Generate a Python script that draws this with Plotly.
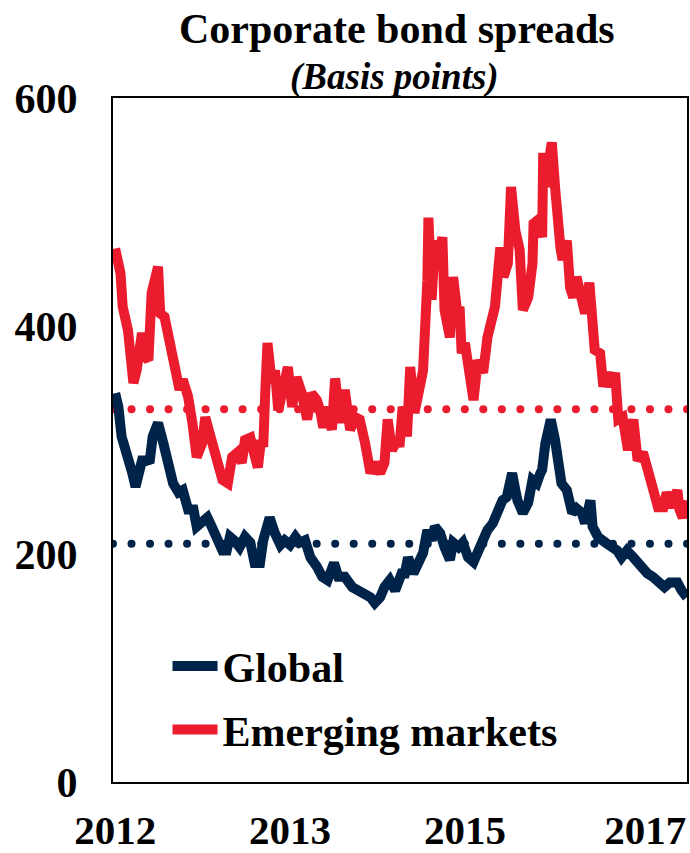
import numpy as np
import plotly.graph_objects as go

# Emerging-market corporate bond spreads (bp), decimal-year dates
em_dates = [2012.02, 2012.07, 2012.09, 2012.14, 2012.19, 2012.22, 2012.27, 2012.30, 2012.33, 2012.36,
            2012.42, 2012.44, 2012.48, 2012.53, 2012.58, 2012.62, 2012.65, 2012.70, 2012.74, 2012.78,
            2012.83, 2012.86, 2012.90, 2012.95, 2012.98, 2013.02, 2013.07, 2013.11, 2013.16, 2013.20,
            2013.23, 2013.28, 2013.31, 2013.35, 2013.38, 2013.40, 2013.42, 2013.44, 2013.48, 2013.51,
            2013.54, 2013.58, 2013.63, 2013.67, 2013.71, 2013.76, 2013.81, 2013.85, 2013.90, 2013.93,
            2013.96, 2013.99, 2014.04, 2014.07, 2014.12, 2014.16, 2014.21, 2014.26, 2014.30, 2014.35,
            2014.40, 2014.44, 2014.49, 2014.53, 2014.56, 2014.60, 2014.65, 2014.67, 2014.70, 2014.72,
            2014.74, 2014.77, 2014.81, 2014.86, 2014.89, 2014.93, 2014.94, 2014.97, 2015.00, 2015.03,
            2015.07, 2015.09, 2015.14, 2015.17, 2015.21, 2015.23, 2015.25, 2015.28, 2015.31, 2015.36,
            2015.40, 2015.45, 2015.49, 2015.53, 2015.56, 2015.61, 2015.64, 2015.68, 2015.71, 2015.75,
            2015.79, 2015.82, 2015.87, 2015.91, 2015.92, 2015.96, 2016.00, 2016.01, 2016.03, 2016.05,
            2016.09, 2016.12, 2016.14, 2016.17, 2016.19, 2016.23, 2016.26, 2016.29, 2016.32, 2016.37,
            2016.40, 2016.44, 2016.46, 2016.49, 2016.54, 2016.57, 2016.61, 2016.65, 2016.68, 2016.71,
            2016.75, 2016.80, 2016.85, 2016.89, 2016.94, 2016.99, 2017.03, 2017.08, 2017.13, 2017.16,
            2017.21, 2017.26, 2017.28, 2017.31, 2017.35]
em_spread = [468, 446, 417, 396, 350, 361, 394, 373, 370, 429,
             452, 411, 408, 385, 367, 344, 353, 338, 315, 285,
             297, 320, 306, 291, 280, 265, 262, 285, 289, 280,
             300, 302, 290, 276, 300, 294, 344, 385, 350, 361,
             326, 347, 364, 329, 355, 341, 318, 341, 335, 326,
             311, 329, 309, 354, 315, 344, 309, 320, 318, 297,
             271, 280, 271, 280, 318, 291, 300, 294, 329, 324,
             303, 364, 324, 347, 361, 440, 495, 423, 475, 458,
             478, 414, 390, 443, 411, 417, 376, 385, 359, 335,
             370, 359, 390, 402, 417, 469, 443, 455, 522, 484,
             467, 414, 425, 455, 490, 493, 478, 552, 522, 537,
             561, 522, 484, 469, 458, 475, 434, 425, 443, 417,
             411, 438, 405, 379, 376, 347, 359, 347, 359, 318,
             320, 291, 318, 282, 289, 271, 262, 241, 241, 254,
             241, 256, 239, 232, 247]

# Global corporate bond spreads (bp)
gl_dates = [2012.02, 2012.05, 2012.08, 2012.13, 2012.18, 2012.21, 2012.23, 2012.27, 2012.32, 2012.34,
            2012.37, 2012.42, 2012.47, 2012.51, 2012.56, 2012.61, 2012.65, 2012.70, 2012.75, 2012.78,
            2012.83, 2012.88, 2012.92, 2012.97, 2013.02, 2013.06, 2013.09, 2013.14, 2013.18, 2013.23,
            2013.28, 2013.32, 2013.37, 2013.40, 2013.44, 2013.46, 2013.51, 2013.56, 2013.60, 2013.65,
            2013.70, 2013.74, 2013.79, 2013.84, 2013.90, 2013.95, 2014.00, 2014.06, 2014.10, 2014.16,
            2014.23, 2014.28, 2014.35, 2014.40, 2014.44, 2014.49, 2014.53, 2014.58, 2014.63, 2014.65,
            2014.69, 2014.72, 2014.75, 2014.80, 2014.84, 2014.89, 2014.93, 2014.97, 2015.00, 2015.05,
            2015.09, 2015.14, 2015.17, 2015.22, 2015.26, 2015.31, 2015.36, 2015.40, 2015.45, 2015.49,
            2015.54, 2015.59, 2015.63, 2015.67, 2015.72, 2015.75, 2015.77, 2015.82, 2015.87, 2015.91,
            2015.95, 2015.98, 2016.00, 2016.03, 2016.05, 2016.08, 2016.12, 2016.15, 2016.18, 2016.23,
            2016.28, 2016.32, 2016.37, 2016.40, 2016.45, 2016.47, 2016.52, 2016.59, 2016.65, 2016.70,
            2016.74, 2016.79, 2016.85, 2016.91, 2016.98, 2017.03, 2017.10, 2017.14, 2017.19, 2017.26,
            2017.30, 2017.35]
gl_spread = [341, 329, 303, 289, 271, 259, 268, 282, 282, 280,
             303, 315, 297, 280, 262, 254, 256, 239, 239, 224,
             227, 232, 224, 215, 203, 203, 215, 211, 206, 215,
             210, 192, 192, 212, 224, 232, 218, 208, 212, 208,
             215, 210, 212, 197, 189, 180, 177, 192, 180, 180,
             171, 168, 166, 162, 157, 162, 171, 177, 168, 175,
             183, 183, 197, 183, 192, 201, 221, 212, 224, 218,
             206, 195, 210, 206, 210, 197, 193, 203, 215, 221,
             227, 239, 247, 250, 271, 256, 247, 236, 245, 265,
             262, 270, 274, 297, 306, 318, 300, 274, 262, 256,
             236, 240, 236, 227, 247, 224, 215, 210, 206, 203,
             197, 203, 197, 189, 183, 180, 175, 171, 175, 175,
             168, 162]

# Long-run averages shown as dotted reference lines
em_avg = 327
gl_avg = 209

x_range = [2012.0, 2017.35]
x_tickvals = [2012.02, 2013.65, 2015.28, 2016.96]
x_ticktext = ["2012", "2013", "2015", "2017"]
y_tickvals = [0, 200, 400, 600]

NAVY = "#00234A"
RED = "#EC1C2F"
FONT = "Liberation Serif, Times New Roman, serif"

dot_x = np.linspace(x_range[0], x_range[1], 32)

fig = go.Figure()
fig.add_trace(go.Scatter(x=dot_x, y=[em_avg] * len(dot_x), mode="markers",
                         marker=dict(color=RED, size=8), showlegend=False,
                         cliponaxis=True, hoverinfo="skip"))
fig.add_trace(go.Scatter(x=dot_x, y=[gl_avg] * len(dot_x), mode="markers",
                         marker=dict(color=NAVY, size=8), showlegend=False,
                         cliponaxis=True, hoverinfo="skip"))
fig.add_trace(go.Scatter(x=gl_dates, y=gl_spread, mode="lines", name="Global",
                         line=dict(color=NAVY, width=10), legendgroup="g"))
fig.add_trace(go.Scatter(x=em_dates, y=em_spread, mode="lines", name="Emerging markets",
                         line=dict(color=RED, width=10), legendgroup="e"))

fig.update_layout(
    width=690, height=853,
    margin=dict(l=113, r=3, t=98, b=71, autoexpand=False),
    paper_bgcolor="white", plot_bgcolor="white",
    font=dict(family=FONT, color="black", size=42, weight="bold"),
    showlegend=True,
    legend=dict(x=0.095, y=0.219, xanchor="left", yanchor="top",
                bgcolor="rgba(0,0,0,0)", tracegroupgap=6,
                font=dict(family=FONT, size=42, color="black", weight="bold"),
                itemwidth=45),
    annotations=[
        dict(text="<b>Corporate bond spreads</b>", xref="paper", yref="paper",
             x=0.495, y=1.101, xanchor="center", yanchor="middle", showarrow=False,
             font=dict(family=FONT, size=42, color="black")),
        dict(text="<b><i>(Basis points)</i></b>", xref="paper", yref="paper",
             x=0.49, y=1.031, xanchor="center", yanchor="middle", showarrow=False,
             font=dict(family=FONT, size=37, color="black")),
    ],
)
fig.update_xaxes(range=x_range, tickvals=x_tickvals, ticktext=x_ticktext,
                 showgrid=False, zeroline=False, showline=True, mirror=True,
                 linecolor="black", linewidth=2, ticks="", ticklabelstandoff=11,
                 automargin=False,
                 tickfont=dict(family=FONT, size=41, color="black", weight="bold"))
fig.update_yaxes(range=[0, 600], tickvals=y_tickvals,
                 showgrid=False, zeroline=False, showline=True, mirror=True,
                 linecolor="black", linewidth=2, ticks="", ticklabelstandoff=25,
                 automargin=False,
                 tickfont=dict(family=FONT, size=42, color="black", weight="bold"))

fig.write_html("out.html")
